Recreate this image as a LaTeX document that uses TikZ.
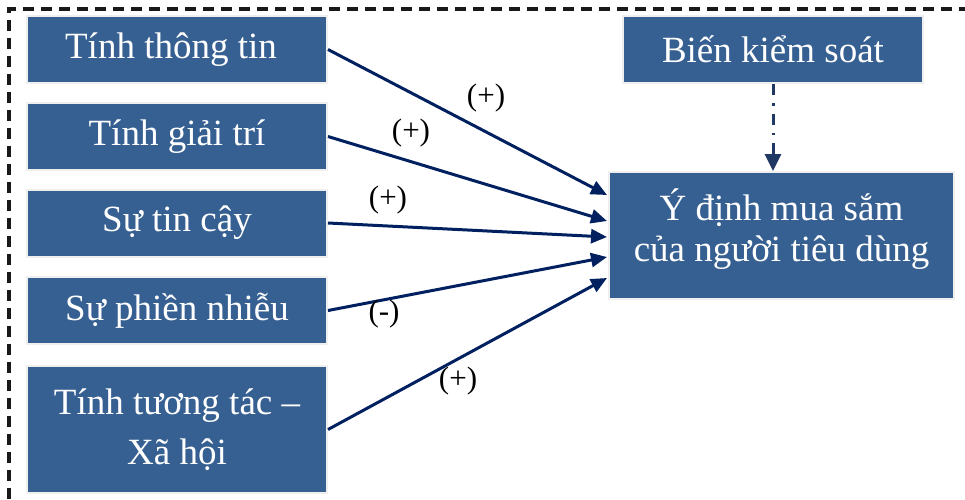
\documentclass[tikz,border=0pt]{standalone}
\usepackage{fontspec}
\setmainfont{Liberation Serif}
\usetikzlibrary{arrows.meta,calc}

\definecolor{boxblue}{HTML}{376092}
\definecolor{boxedge}{HTML}{EFEFEF}
\definecolor{arrownavy}{HTML}{002060}
\definecolor{ctrlnavy}{HTML}{1F3864}

\tikzset{
  varbox/.style={rectangle, fill=boxblue, draw=boxedge, line width=2pt,
    text=white, align=center, inner sep=0pt,
    font=\fontsize{37}{41}\selectfont},
  leftbox/.style={varbox, minimum width=300pt, minimum height=67pt},
  boxtext/.style={text=white, align=center, inner sep=0pt,
    font=\fontsize{37}{41}\selectfont},
  effect/.style={draw=arrownavy, line width=3pt,
    -{Triangle[length=16pt,width=14pt]}},
  control/.style={draw=ctrlnavy, line width=3pt,
    dash pattern=on 11pt off 8pt on 2.5pt off 8pt,
    -{Triangle[length=17pt,width=16pt]}},
  sign/.style={inner sep=0pt, font=\fontsize{31}{31}\selectfont}
}

\begin{document}
\begin{tikzpicture}[x=1pt,y=-1pt]
  \useasboundingbox (0,0) rectangle (965,499);

  % dashed frame (top and left edges)
  \draw[line width=3.4pt, black!90, dash pattern=on 11pt off 7pt]
    (9,499) |- (965,9);

  % independent variables
  \node[leftbox] (info)  at (177,49.5)  {Tính thông tin\hspace*{12pt}};
  \node[leftbox] (ent)   at (177,136.5) {Tính giải trí};
  \node[leftbox] (trust) at (177,223)   {Sự tin cậy};
  \node[leftbox] (irr)   at (177,310.5) {Sự phiền nhiễu};
  \node[leftbox, minimum height=127pt,
        font=\fontsize{37}{50}\selectfont] (soc) at (177,429.5)
        {Tính tương tác –\\Xã hội};

  % control variable and outcome
  \node[varbox, minimum width=300pt, minimum height=67pt] (ctrl)
        at (773,49.5) {Biến kiểm soát};
  \node[varbox, minimum width=345pt, minimum height=127pt] (intent)
        at (781.5,235.5) {};
  \node[boxtext] (intenttext) at ($(intent.center)+(0,-6)$)
        {Ý định mua sắm\\của người tiêu dùng};

  % arrow end points on the outcome box
  \coordinate (e1) at ($(intent.west)+(-1,-40.5)$);
  \coordinate (e2) at ($(intent.west)+(-1,-14.5)$);
  \coordinate (e3) at ($(intent.west)+(-1,1.5)$);
  \coordinate (e4) at ($(intent.west)+(-1,21.5)$);
  \coordinate (e5) at ($(intent.west)+(-1,42.5)$);

  \draw[effect] (info.east)  -- (e1);
  \draw[effect] (ent.east)   -- (e2);
  \draw[effect] (trust.east) -- (e3);
  \draw[effect] (irr.east)   -- (e4);
  \draw[effect] (soc.east)   -- (e5);

  \draw[control] (ctrl.south) -- (ctrl.south |- intent.north);

  % signs of the hypothesised effects
  \node[sign] (s1) at (486,98)  {(+)};
  \node[sign] (s2) at (411,133) {(+)};
  \node[sign] (s3) at (388,200) {(+)};
  \node[sign] (s4) at (384,314) {(-)};
  \node[sign] (s5) at (458,381) {(+)};
\end{tikzpicture}
\end{document}
